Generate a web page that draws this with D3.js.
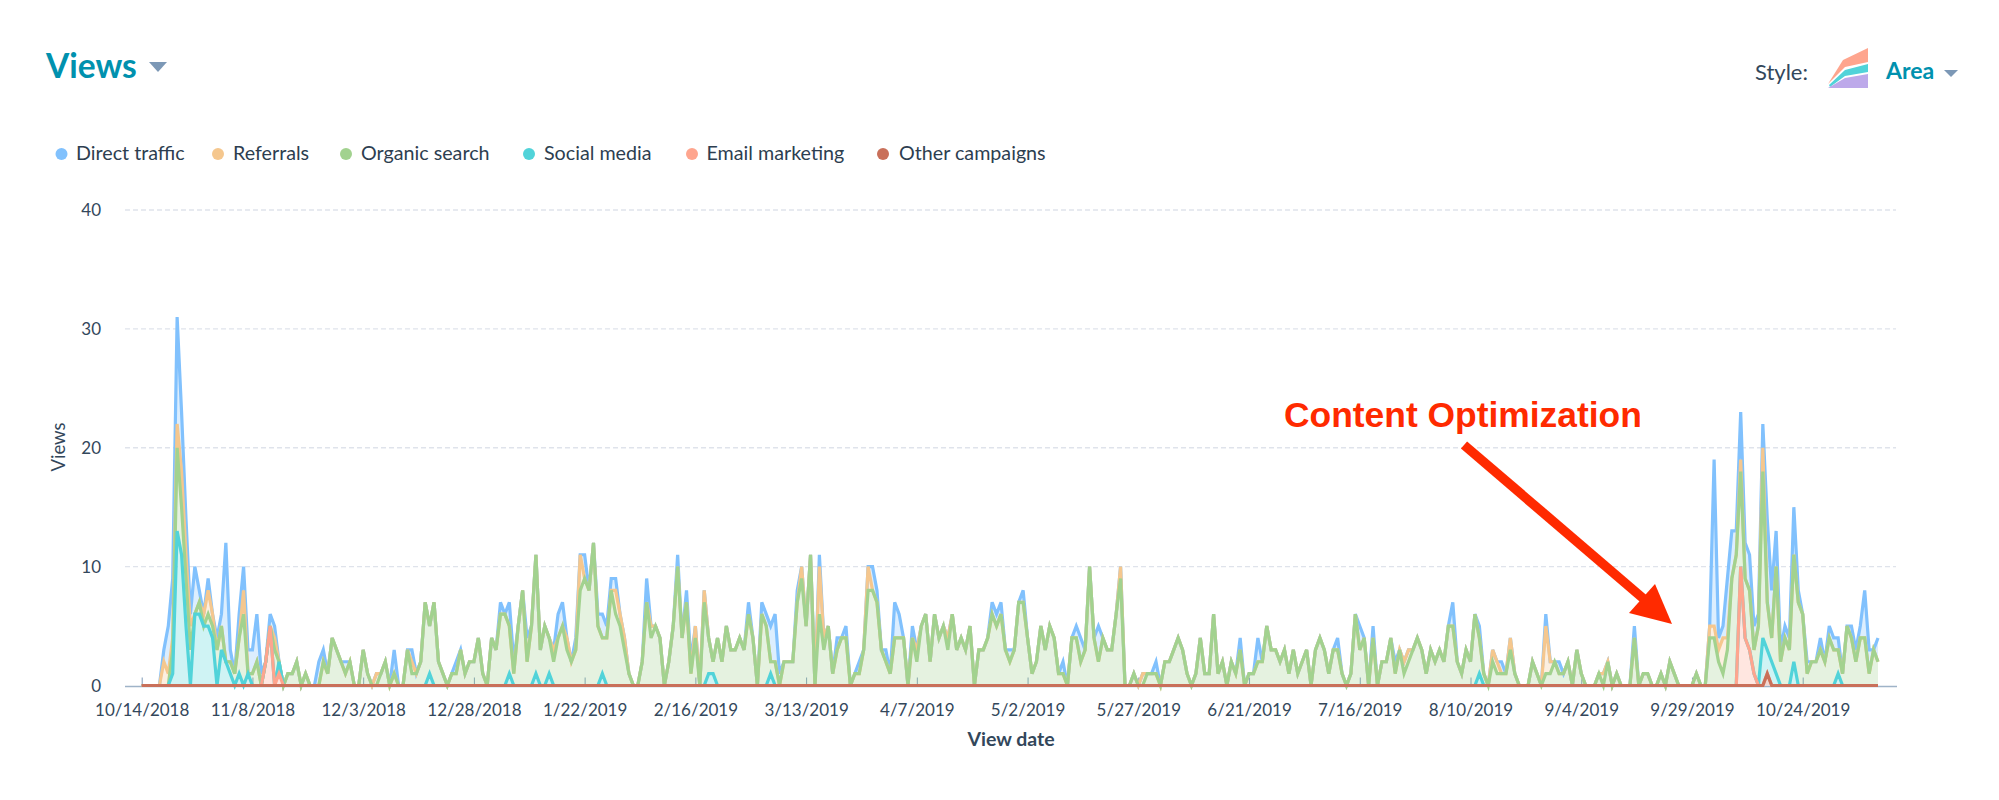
<!DOCTYPE html>
<html>
<head>
<meta charset="utf-8">
<script src="https://cdn.jsdelivr.net/npm/d3@7"></script>
<style>
html,body{margin:0;padding:0;background:#fff;}
svg{display:block;}
text{font-family:Lato,"Open Sans",sans-serif;}
</style>
</head>
<body>
<svg id="c" width="1999" height="800"></svg>
<script>
// Daily top-of-band heights, one row = 10 days, starting 10/14/2018
const startDate = "10/14/2018";
const direct = [
0,0,0,0,0,3,5,9,31,23,
14,6,10,8,6,9,6,4,6,12,
3,1,6,10,3,3,6,1,2,6,
5,2,0,1,1,2,0,1,0,0,
2,3,1,4,3,2,2,2,0,0,
3,1,0,1,1,2,0,3,0,0,
3,3,1,2,7,5,7,2,1,0,
1,2,3,1,2,2,4,1,0,4,
3,7,6,7,2,5,8,4,5,11,
3,5,4,3,6,7,4,2,4,11,
11,8,12,6,6,5,9,9,6,4,
1,0,0,2,9,5,5,4,0,2,
5,11,4,8,2,5,0,8,4,2,
4,2,5,3,3,4,3,7,4,0,
7,6,5,6,1,2,2,2,8,10,
5,11,0,11,4,5,1,4,4,5,
0,1,2,3,10,10,8,3,3,1,
7,6,4,0,5,3,5,6,2,6,
4,5,4,6,3,4,3,5,0,3,
3,4,7,6,7,3,3,3,7,8,
4,1,2,5,3,5,4,1,2,0,
4,5,4,3,10,4,5,4,3,3,
6,10,0,0,1,0,1,1,1,2,
0,2,2,3,4,3,1,0,1,4,
1,1,6,1,2,0,2,1,4,0,
1,1,4,2,5,3,3,2,3,1,
3,1,2,3,0,3,4,3,1,3,
4,1,0,1,6,5,4,0,5,0,
2,2,4,2,3,2,3,3,4,3,
1,3,2,3,2,5,7,2,1,3,
2,6,5,1,0,3,2,2,1,4,
1,0,0,0,2,1,0,6,2,2,
2,1,2,0,3,1,0,0,0,1,
1,2,0,1,0,0,0,5,0,1,
1,0,0,1,0,2,1,0,0,0,
0,1,0,0,5,19,4,5,9,13,
13,23,12,11,5,6,22,14,8,13,
3,5,4,15,8,6,2,2,2,4,
2,5,4,4,1,5,5,3,5,8,
3,3,4];
const referrals = [
0,0,0,0,0,2,1,4,22,18,
11,5,6,7,6,8,6,3,5,2,
2,1,4,8,1,1,2,0,2,5,
4,2,0,1,1,2,0,1,0,0,
0,2,1,4,3,2,1,2,0,0,
3,1,0,1,1,2,0,1,0,0,
3,2,1,2,7,5,7,2,1,0,
1,1,3,1,2,2,4,1,0,4,
3,6,6,5,1,5,8,2,5,11,
3,5,4,3,4,5,4,2,3,11,
9,8,12,5,4,4,8,8,6,4,
1,0,0,2,7,5,5,4,0,2,
5,10,4,7,1,5,0,8,4,2,
4,2,5,3,3,4,3,6,4,0,
6,5,2,2,0,2,2,2,7,10,
5,11,0,10,4,5,1,3,4,4,
0,1,1,3,10,8,7,3,2,1,
4,4,4,0,4,3,5,6,2,6,
4,5,4,6,3,4,3,5,0,3,
3,4,6,5,6,3,2,3,7,7,
4,1,2,5,3,5,4,1,1,0,
4,4,2,3,10,4,2,4,3,3,
6,10,0,0,1,0,1,1,1,1,
0,2,2,3,4,3,1,0,1,4,
1,1,6,1,2,0,2,1,3,0,
1,1,2,2,5,3,3,2,3,1,
3,1,2,3,0,3,4,3,1,3,
3,1,0,1,6,3,4,0,4,0,
2,2,4,1,3,2,3,3,4,3,
1,3,2,3,2,5,5,2,1,3,
2,6,4,1,0,3,2,1,1,4,
1,0,0,0,2,1,0,5,2,2,
1,1,2,0,3,1,0,0,0,1,
1,2,0,1,0,0,0,4,0,1,
1,0,0,1,0,2,1,0,0,0,
0,1,0,0,5,5,3,4,4,9,
11,19,9,8,3,5,20,7,4,10,
2,4,3,11,7,6,1,2,2,3,
2,4,3,3,1,5,4,2,4,4,
1,3,2];
const organic = [
0,0,0,0,0,0,0,3,20,15,
9,3,6,7,5,6,5,3,5,2,
2,1,4,6,1,1,2,0,2,5,
3,2,0,1,1,2,0,1,0,0,
0,2,1,4,3,2,1,2,0,0,
3,1,0,0,1,2,0,1,0,0,
3,1,1,2,7,5,7,2,1,0,
1,1,3,1,2,2,4,1,0,4,
3,6,6,5,1,5,8,2,5,11,
3,5,4,2,4,5,3,2,3,8,
9,8,12,5,4,4,8,6,5,3,
1,0,0,2,7,4,5,4,0,2,
5,10,4,7,1,4,0,7,4,2,
4,2,5,3,3,4,3,6,4,0,
6,5,2,2,0,2,2,2,7,9,
5,11,0,6,3,5,1,3,4,4,
0,1,1,3,8,8,7,3,2,1,
4,4,4,0,4,2,5,6,2,6,
4,5,3,6,3,4,3,5,0,3,
3,4,6,5,6,3,2,3,7,7,
4,1,2,5,3,5,4,1,1,0,
4,4,2,3,10,4,2,4,3,3,
6,9,0,0,1,0,0,1,1,1,
0,2,2,3,4,3,1,0,1,4,
1,1,6,1,2,0,2,1,3,0,
1,1,2,2,5,3,3,2,3,1,
3,1,2,3,0,3,4,3,1,3,
3,1,0,1,6,3,4,0,4,0,
2,2,4,1,3,1,2,3,4,3,
1,3,2,3,2,5,5,2,1,3,
2,6,4,1,0,2,1,1,1,3,
1,0,0,0,2,1,0,1,1,2,
1,1,2,0,3,1,0,0,0,1,
0,2,0,1,0,0,0,4,0,1,
1,0,0,1,0,2,1,0,0,0,
0,1,0,0,4,4,2,1,3,9,
11,18,9,8,3,5,18,7,4,10,
2,4,3,11,7,6,1,2,2,3,
2,4,3,3,1,5,4,2,4,4,
1,3,2];
const social = [
0,0,0,0,0,0,0,1,13,11,
5,0,6,6,5,5,4,0,3,2,
1,0,1,0,1,0,0,0,0,0,
0,2,0,0,0,0,0,0,0,0,
0,0,0,0,0,0,0,0,0,0,
0,0,0,0,0,0,0,0,0,0,
0,0,0,0,0,1,0,0,0,0,
0,0,0,0,0,0,0,0,0,0,
0,0,0,1,0,0,0,0,0,1,
0,0,1,0,0,0,0,0,0,0,
0,0,0,0,1,0,0,0,0,0,
0,0,0,0,0,0,0,0,0,0,
0,0,0,0,0,0,0,0,1,1,
0,0,0,0,0,0,0,0,0,0,
0,0,1,0,0,0,0,0,0,0,
0,0,0,0,0,0,0,0,0,0,
0,0,0,0,0,0,0,0,0,0,
0,0,0,0,0,0,0,0,0,0,
0,0,0,0,0,0,0,0,0,0,
0,0,0,0,0,0,0,0,0,0,
0,0,0,0,0,0,0,0,0,0,
0,0,0,0,0,0,0,0,0,0,
0,0,0,0,0,0,0,0,0,0,
0,0,0,0,0,0,0,0,0,0,
0,0,0,0,0,0,0,0,0,0,
0,0,0,0,0,0,0,0,0,0,
0,0,0,0,0,0,0,0,0,0,
0,0,0,0,0,0,0,0,0,0,
0,0,0,0,0,0,0,0,0,0,
0,0,0,0,0,0,0,0,0,0,
0,0,1,0,0,0,0,0,0,0,
0,0,0,0,0,0,0,0,0,0,
0,0,0,0,0,0,0,0,0,0,
0,0,0,0,0,0,0,0,0,0,
0,0,0,0,0,0,0,0,0,0,
0,0,0,0,0,0,0,0,0,0,
0,0,0,0,0,0,4,3,2,1,
0,0,0,2,0,0,0,0,0,0,
0,0,0,1,0,0,0,0,0,0,
0,0,0];
const email = d3.range(393).map(()=>0);
const emailPeaks = [[28,2],[29,5],[31,1],[361,10],[362,4],[363,3],[364,1]];
emailPeaks.forEach(([i,v])=>email[i]=v);
const other = d3.range(393).map(()=>0);
const otherPeaks = [[367,1]];
otherPeaks.forEach(([i,v])=>other[i]=v);

const seriesNames = ["Direct traffic","Referrals","Organic search","Social media","Email marketing","Other campaigns"];
const seriesColors = ["#81c1fd","#f5c78e","#a2d28f","#51d3d9","#fea58e","#c9705a"];
const seriesTops = [direct,referrals,organic,social,email,other];
const tickLabels = ["10/14/2018","11/8/2018","12/3/2018","12/28/2018","1/22/2019","2/16/2019","3/13/2019","4/7/2019","5/2/2019","5/27/2019","6/21/2019","7/16/2019","8/10/2019","9/4/2019","9/29/2019","10/24/2019"];
const yTicks = [0,10,20,30,40];

const parse = d3.utcParse("%m/%d/%Y"), fmt = d=>`${d.getUTCMonth()+1}/${d.getUTCDate()}/${d.getUTCFullYear()}`;
const dates = direct.map((_,i)=>d3.utcDay.offset(parse(startDate),i));

// increments between the heights, stacked bottom-up (other first)
const stackKeys = [5,4,3,2,1,0];
const table = dates.map((date,i)=>{
  const row={date}; let low=0;
  stackKeys.forEach(k=>{const top=Math.max(low,seriesTops[k][i]); row[k]=top-low; low=top;});
  return row;
});
const stacked = d3.stack().keys(stackKeys)(table);

const svg = d3.select("#c");
const x = d3.scaleUtc().domain([dates[0],dates[dates.length-1]]).range([141.7,1878]);
const y = d3.scaleLinear().domain([0,40]).range([685.5,210]);

// grid
svg.append("g").selectAll("line").data(yTicks.filter(d=>d>0)).join("line")
  .attr("x1",125).attr("x2",1896).attr("y1",y).attr("y2",y)
  .attr("stroke","#dfe3eb").attr("stroke-width",1.3).attr("stroke-dasharray","5,3");

// y labels
svg.append("g").selectAll("text").data(yTicks).join("text")
  .attr("x",101).attr("y",d=>y(d)+6).attr("text-anchor","end")
  .attr("font-size",17).attr("fill","#33475b").text(d=>d);

// x axis
const axis = svg.append("g").attr("transform","translate(0,686.5)")
  .call(d3.axisBottom(x).tickValues(tickLabels.map(parse)).tickFormat(fmt).tickSizeInner(-9).tickSizeOuter(0).tickPadding(0));
axis.select(".domain").remove();
axis.selectAll(".tick line").attr("stroke","#7c98b6").attr("stroke-width",1);
axis.selectAll(".tick text").attr("y",29).attr("dy",0).attr("font-size",17).attr("fill","#33475b").attr("font-family","Lato");
svg.append("line").attr("x1",125).attr("x2",1897).attr("y1",686.5).attr("y2",686.5).attr("stroke","#9fb3c8").attr("stroke-width",1.5);

// bands
const area = d3.area().x(d=>x(d.data.date)).y0(d=>y(d[0])).y1(d=>y(d[1]));
const line = d3.line().x(d=>x(d.data.date)).y(d=>y(d[1]));
const layers = [...stacked].reverse(); // direct first, other last on top
svg.append("g").selectAll("path").data(layers).join("path")
  .attr("d",area).attr("fill",s=>seriesColors[s.key]).attr("fill-opacity",.28);
svg.append("g").selectAll("path").data(layers).join("path")
  .attr("d",line).attr("fill","none").attr("stroke",s=>seriesColors[s.key])
  .attr("stroke-width",3.2).attr("stroke-linejoin","miter");

// legend
const legendX = [[61.5,76],[218,233],[346,361],[529,544],[692,706.5],[883,899]];
const lg = svg.append("g").selectAll("g").data(seriesNames).join("g");
lg.append("circle").attr("cx",(d,i)=>legendX[i][0]).attr("cy",154).attr("r",6).attr("fill",(d,i)=>seriesColors[i]);
lg.append("text").attr("x",(d,i)=>legendX[i][1]).attr("y",160).attr("font-size",19.7).attr("fill","#2d3e50").text(d=>d);

// titles
svg.append("text").attr("x",46).attr("y",78).attr("font-size",33.5).attr("font-weight",700).attr("fill","#0091ae").text("Views");
svg.append("path").attr("d","M149,62H167L158,72Z").attr("fill","#7c98b6");
svg.append("text").attr("x",1755).attr("y",80).attr("font-size",22).attr("fill","#33475b").text("Style:");
svg.append("text").attr("x",1886).attr("y",79).attr("font-size",23).attr("font-weight",700).attr("fill","#0091ae").text("Area");
svg.append("path").attr("d","M1944,70H1958L1951,77Z").attr("fill","#7c98b6");
// style icon
svg.append("path").attr("d","M1828,84L1843,60L1868,48V62L1845,67L1829,83Z").attr("fill","#fea58e");
svg.append("path").attr("d","M1829,85L1845,70L1868,64V72L1845,76L1830,87Z").attr("fill","#51d3d9");
svg.append("path").attr("d","M1828,88L1845,78L1868,74V88Z").attr("fill","#bda9ea");

// axis titles
svg.append("text").attr("x",1011).attr("y",746).attr("text-anchor","middle").attr("font-size",19.5).attr("font-weight",700).attr("fill","#33475b").text("View date");
svg.append("text").attr("transform","translate(65,447) rotate(-90)").attr("text-anchor","middle").attr("font-size",18.5).attr("fill","#33475b").text("Views");

// annotation
svg.append("text").attr("x",1284).attr("y",427).attr("font-size",35.4).attr("font-weight",700).attr("fill","#ff2a00").style("font-family","'Liberation Sans',Arial,sans-serif").text("Content Optimization");
svg.append("line").attr("x1",1464).attr("y1",445).attr("x2",1645).attr("y2",600).attr("stroke","#ff2a00").attr("stroke-width",9.5);
svg.append("path").attr("d","M1655,584L1629,613L1672,624Z").attr("fill","#ff2a00");
</script>
</body>
</html>
